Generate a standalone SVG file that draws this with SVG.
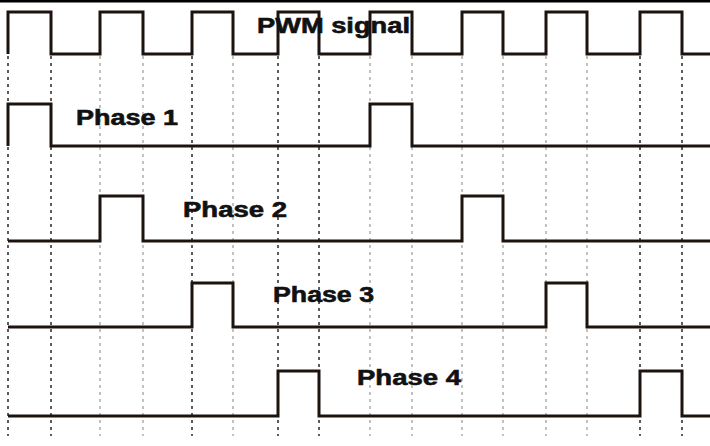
<svg xmlns="http://www.w3.org/2000/svg" width="710" height="446" viewBox="0 0 710 446">
<style>
.sig{fill:none;stroke:#1c130e;stroke-width:3;stroke-linejoin:miter}
.gd{stroke:#333;stroke-width:1.6;stroke-dasharray:3 4}
.gl{stroke:#999;stroke-width:1.2;stroke-dasharray:3 4}
.lbl{font-family:"Liberation Sans",Arial,sans-serif;font-weight:bold;font-size:22px;fill:#111;stroke:#111;stroke-width:0.6}
</style>
<rect x="0" y="0" width="710" height="446" fill="#fff"/>
<rect x="0" y="0" width="710" height="2.5" fill="#000"/>
<g id="grid">
<line class="gd" x1="8" y1="56" x2="8" y2="436"/>
<line class="gd" x1="51" y1="56" x2="51" y2="436"/>
<line class="gl" x1="100" y1="56" x2="100" y2="436"/>
<line class="gl" x1="143" y1="56" x2="143" y2="436"/>
<line class="gd" x1="192" y1="56" x2="192" y2="436"/>
<line class="gl" x1="233" y1="56" x2="233" y2="436"/>
<line class="gd" x1="278" y1="56" x2="278" y2="436"/>
<line class="gd" x1="319" y1="56" x2="319" y2="436"/>
<line class="gl" x1="370" y1="56" x2="370" y2="436"/>
<line class="gl" x1="412" y1="56" x2="412" y2="436"/>
<line class="gl" x1="462" y1="56" x2="462" y2="436"/>
<line class="gl" x1="503" y1="56" x2="503" y2="436"/>
<line class="gl" x1="546" y1="56" x2="546" y2="436"/>
<line class="gl" x1="587" y1="56" x2="587" y2="436"/>
<line class="gd" x1="640" y1="56" x2="640" y2="436"/>
<line class="gd" x1="682" y1="56" x2="682" y2="436"/>
</g>
<g id="pwm">
<path class="sig" d="M8,54 V12 H51 V54 H100 V12 H143 V54 H192 V12 H233 V54 H278 V12 H319 V54 H370 V12 H412 V54 H462 V12 H503 V54 H546 V12 H587 V54 H640 V12 H682 V54 H710"/>
<text class="lbl" x="257" y="33" textLength="153" lengthAdjust="spacingAndGlyphs">PWM signal</text>
</g>
<g id="phase1">
<path class="sig" d="M8,146 V104 H51 V146 H370 V104 H412 V146 H710"/>
<text class="lbl" x="76" y="125" textLength="102" lengthAdjust="spacingAndGlyphs">Phase 1</text>
</g>
<g id="phase2">
<path class="sig" d="M8,241 H100 V196 H143 V241 H462 V196 H503 V241 H710"/>
<text class="lbl" x="183" y="217" textLength="104" lengthAdjust="spacingAndGlyphs">Phase 2</text>
</g>
<g id="phase3">
<path class="sig" d="M8,327 H192 V283 H233 V327 H546 V283 H587 V327 H710"/>
<text class="lbl" x="273" y="302" textLength="101" lengthAdjust="spacingAndGlyphs">Phase 3</text>
</g>
<g id="phase4">
<path class="sig" d="M8,416 H278 V371 H319 V416 H640 V371 H682 V416 H710"/>
<text class="lbl" x="357" y="385" textLength="104" lengthAdjust="spacingAndGlyphs">Phase 4</text>
</g>
</svg>
